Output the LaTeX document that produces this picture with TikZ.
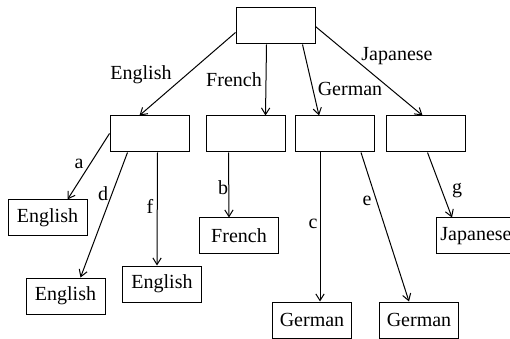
\documentclass[tikz,border=0pt]{standalone}
\usepackage{fontspec}
\setmainfont{Liberation Serif}
\usetikzlibrary{arrows.meta,calc}
\begin{document}
\begin{tikzpicture}[x=0.6pt,y=-0.6pt,
  box/.style={draw, line width=0.6pt, minimum width=47.4pt, minimum height=21.6pt, inner sep=0pt, font=\fontsize{12}{14}\selectfont},
  edge/.style={line width=0.6pt, -{Straight Barb[length=4pt,width=5pt]}},
  lbl/.style={inner sep=0pt, font=\fontsize{12}{14}\selectfont}]
\useasboundingbox (0,0) rectangle (510,339);
\node[box] (root) at (275.5,26) {};
\node[box] (E) at (149.5,134) {};
\node[box] (F) at (245.5,134) {};
\node[box] (G) at (335,134) {};
\node[box] (J) at (425.5,134) {};
\node[box] (a) at (47.5,218) {English};
\node[box] (d) at (65.5,296) {English};
\node[box] (f) at (162,284) {English};
\node[box] (b) at (239,236) {French};
\node[box] (c) at (312,320) {German};
\node[box] (e) at (419,320) {German};
\node[box] (g) at (476,236) {Japanese};
\draw[edge] ($(root.south west)+(0,-12)$) -- ($(E.north west)+(30,0)$);
\draw[edge] ($(root.south west)+(31,0)$) -- ($(F.north west)+(60,0)$);
\draw[edge] ($(root.south west)+(67,0)$) -- ($(G.north west)+(24,0)$);
\draw[edge] ($(root.north east)+(0,19)$) -- ($(J.north west)+(37,0)$);
\draw[edge] ($(E.north west)+(0,18)$) -- ($(a.north west)+(60,0)$);
\draw[edge] ($(E.south west)+(18,0)$) -- ($(d.north west)+(55,0)$);
\draw[edge] ($(E.south west)+(48,0)$) -- ($(f.north west)+(35,0)$);
\draw[edge] ($(F.south west)+(23,0)$) -- ($(b.north west)+(30,0)$);
\draw[edge] ($(G.south west)+(25,0)$) -- ($(c.north west)+(48,0)$);
\draw[edge] ($(G.south west)+(66,0)$) -- ($(e.north west)+(30,0)$);
\draw[edge] ($(J.south west)+(42,0)$) -- ($(g.north west)+(16,0)$);
\node[lbl] (lE) at (141,75) {English};
\node[lbl] (lF) at (234,80) {French};
\node[lbl] (lG) at (350,89) {German};
\node[lbl] (lJ) at (397,56) {Japanese};
\node[lbl] (la) at (79,164) {a};
\node[lbl] (ld) at (103,194) {d};
\node[lbl] (lf) at (150,206) {f};
\node[lbl] (lb) at (223,188) {b};
\node[lbl] (lc) at (313,224) {c};
\node[lbl] (le) at (367,201) {e};
\node[lbl] (lg) at (457,191) {g};
\end{tikzpicture}
\end{document}
